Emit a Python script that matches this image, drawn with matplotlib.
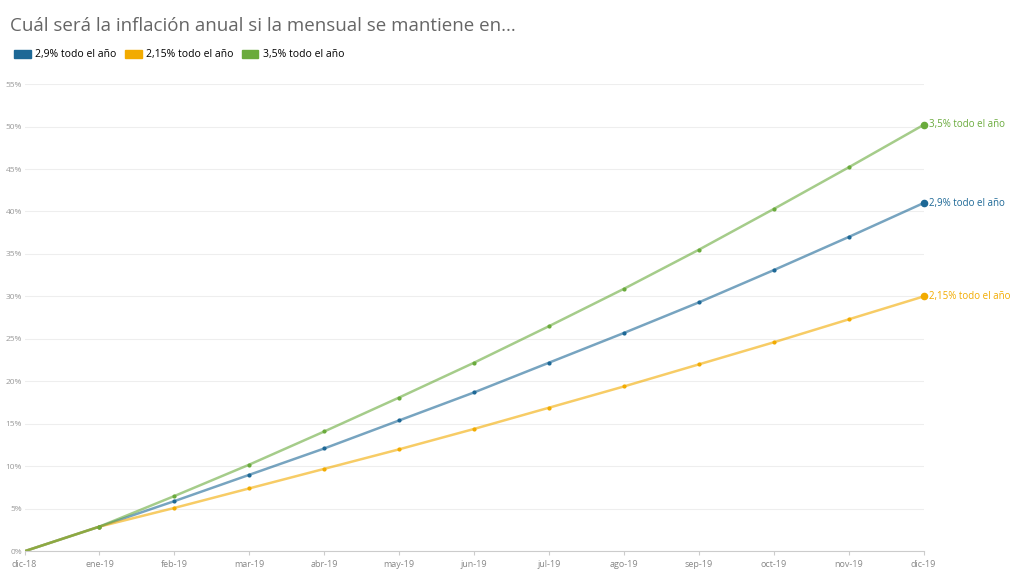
import matplotlib.pyplot as plt
from matplotlib.patches import Patch

plt.rcParams['font.family'] = ['Open Sans', 'DejaVu Sans']

meses = ['dic-18', 'ene-19', 'feb-19', 'mar-19', 'abr-19', 'may-19', 'jun-19',
         'jul-19', 'ago-19', 'sep-19', 'oct-19', 'nov-19', 'dic-19']
azul = [0, 2.9, 5.9, 9.0, 12.1, 15.4, 18.7, 22.2, 25.7, 29.3, 33.1, 37.0, 41.0]
amarillo = [0, 2.9, 5.1, 7.4, 9.7, 12.0, 14.4, 16.9, 19.4, 22.0, 24.6, 27.3, 30.0]
verde = [0, 2.9, 6.5, 10.2, 14.1, 18.1, 22.2, 26.5, 30.9, 35.5, 40.3, 45.2, 50.2]

series = [
    ('2,9% todo el año', azul, '#1d6896'),
    ('2,15% todo el año', amarillo, '#f2ab00'),
    ('3,5% todo el año', verde, '#6aab3c'),
]

fig = plt.figure(figsize=(10.24, 5.76), dpi=100)
ax = fig.add_axes([0.024, 0.043, 0.878, 0.811])
x = list(range(len(meses)))
for nombre, vals, color in series:
    ax.plot(x, vals, color=color, alpha=0.6, lw=1.8)
    ax.scatter(x[1:-1], vals[1:-1], color=color, s=4, zorder=3)
    ax.scatter(x[-1], vals[-1], color=color, s=20, zorder=3, clip_on=False)
    ax.text(x[-1] + 0.07, vals[-1], nombre, color=color, fontsize=7,
            va='center', ha='left')

ax.set_xlim(0, 12)
ax.set_ylim(0, 55)
ax.set_xticks(x)
ax.set_xticklabels(meses, fontsize=6.5, color='#888888')
ax.set_yticks(range(0, 56, 5))
ax.set_yticklabels([f'{v}%' for v in range(0, 56, 5)], fontsize=6, color='#999999')
ax.tick_params(axis='y', length=0, pad=2)
ax.tick_params(axis='x', length=3, color='#cccccc')
ax.grid(axis='y', color='#eeeeee', lw=0.8)
for s in ['top', 'right', 'left']:
    ax.spines[s].set_visible(False)
ax.spines['bottom'].set_color('#cccccc')
ax.set_axisbelow(True)

fig.text(0.01, 0.955, 'Cuál será la inflación anual si la mensual se mantiene en...',
         fontsize=13.5, color='#666666', va='center')
handles = [Patch(color=c, label=n) for n, _, c in series]
fig.legend(handles=handles, loc='center left', bbox_to_anchor=(0.005, 0.905),
           ncol=3, frameon=False, fontsize=7.5, handlelength=1.6, handleheight=0.8,
           columnspacing=0.8, handletextpad=0.4)

fig.savefig('out.png', dpi=100)
